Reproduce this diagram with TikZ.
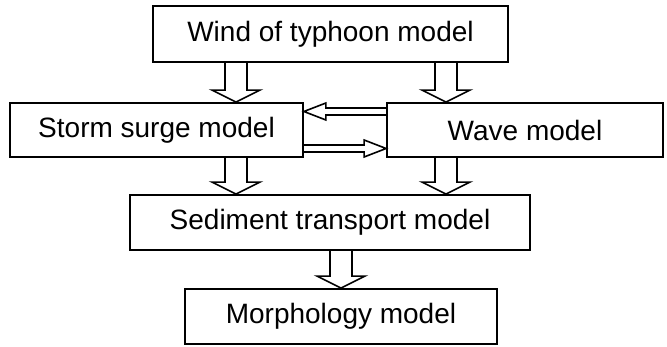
\documentclass[tikz,border=0pt]{standalone}
\usepackage{fontspec}
\setmainfont{Liberation Sans}
\usetikzlibrary{calc}
\tikzset{
  box/.style={draw, line width=1.8pt, inner sep=0pt, font=\fontsize{28}{31}\selectfont},
  blk/.style={draw, line width=1.6pt, line join=miter}
}
% vertical block arrow: #1 x-coordinate name, #2 source node, #3 target node
\newcommand\vblk[3]{%
  \draw[blk] ($(#1|-#2.south)+(-11pt,0)$) -- ($(#1|-#3.north)+(-11pt,12pt)$)
    -- ($(#1|-#3.north)+(-24pt,12pt)$) -- (#1|-#3.north)
    -- ($(#1|-#3.north)+(24pt,12pt)$) -- ($(#1|-#3.north)+(11pt,12pt)$)
    -- ($(#1|-#2.south)+(11pt,0)$);}
\begin{document}
\begin{tikzpicture}[x=1pt,y=-1pt]
\useasboundingbox (0,0) rectangle (667,347);
\node[box, minimum width=355pt, minimum height=56pt] (wind) at (330.5,34) {Wind of typhoon model};
\node[box, minimum width=293pt, minimum height=54pt] (storm) at (156.5,130) {Storm surge model};
\node[box, minimum width=276pt, minimum height=54pt] (wave) at (525,130) {Wave model};
\node[box, minimum width=400pt, minimum height=55pt] (sed) at (330,222.5) {Sediment transport model};
\node[box, minimum width=312pt, minimum height=55pt] (morph) at (341,316.5) {Morphology model};
\coordinate (xl) at (236,0);
\coordinate (xr) at (446,0);
\coordinate (xm) at (341,0);
\coordinate (yt) at (0,111.5);
\coordinate (yb) at (0,148.5);
\vblk{xl}{wind}{storm}
\vblk{xr}{wind}{wave}
\vblk{xl}{storm}{sed}
\vblk{xr}{wave}{sed}
\vblk{xm}{sed}{morph}
% wave -> storm (pointing left)
\draw[blk] ($(wave.west|-yt)+(0,3.5pt)$) -- ($(storm.east|-yt)+(22pt,3.5pt)$)
  -- ($(storm.east|-yt)+(22pt,8.5pt)$) -- (storm.east|-yt)
  -- ($(storm.east|-yt)+(22pt,-8.5pt)$) -- ($(storm.east|-yt)+(22pt,-3.5pt)$)
  -- ($(wave.west|-yt)+(0,-3.5pt)$);
% storm -> wave (pointing right)
\draw[blk] ($(storm.east|-yb)+(0,3.5pt)$) -- ($(wave.west|-yb)+(-22pt,3.5pt)$)
  -- ($(wave.west|-yb)+(-22pt,8.5pt)$) -- (wave.west|-yb)
  -- ($(wave.west|-yb)+(-22pt,-8.5pt)$) -- ($(wave.west|-yb)+(-22pt,-3.5pt)$)
  -- ($(storm.east|-yb)+(0,-3.5pt)$);
\end{tikzpicture}
\end{document}
